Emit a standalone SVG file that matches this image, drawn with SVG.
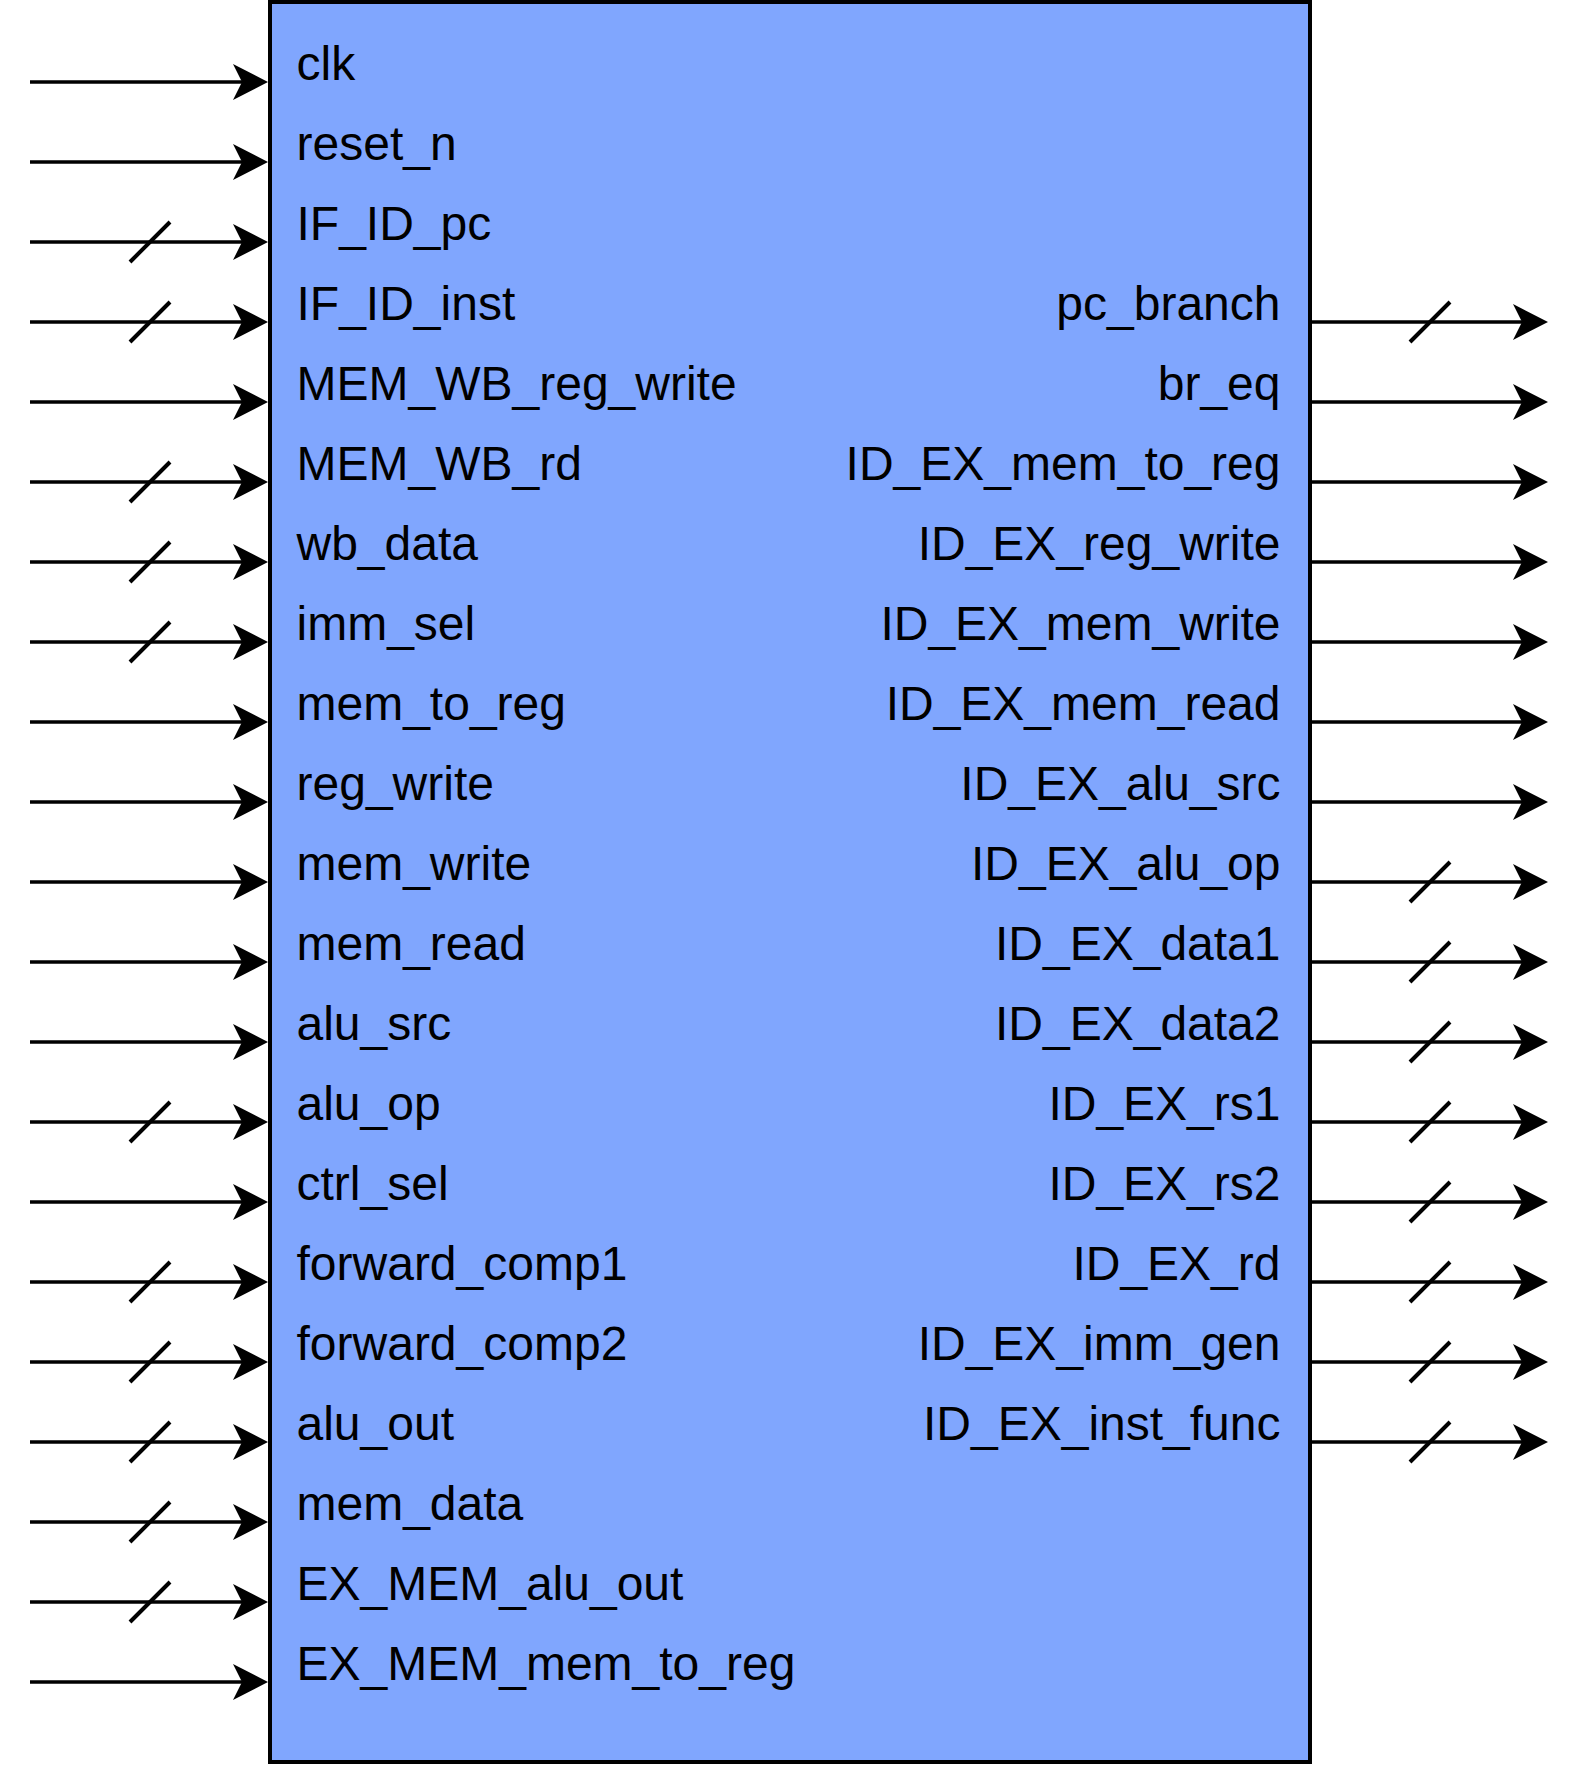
<svg xmlns="http://www.w3.org/2000/svg" width="1584" height="1768" viewBox="0 0 1584 1768">
<style>
.lbl{font-family:"Liberation Sans",Arial,sans-serif;font-size:48px;fill:#000}
.r{text-anchor:end}
.w{stroke:#000;stroke-width:3.5;fill:none}
.s{stroke:#000;stroke-width:4;fill:none}
</style>
<defs>
<marker id="ah" markerUnits="userSpaceOnUse" viewBox="-36 -19 37 38" refX="-20" refY="0" markerWidth="37" markerHeight="38" orient="auto">
<path d="M0,0 L-35,-18 L-26,0 L-35,18 Z" fill="#000"/>
</marker>
</defs>
<rect width="1584" height="1768" fill="#fff"/>
<g id="block">
<rect x="270" y="2" width="1040" height="1760" fill="#80A6FE" stroke="#000" stroke-width="4"/>
<text class="lbl" x="296.5" y="80">clk</text>
<text class="lbl" x="296.5" y="160">reset_n</text>
<text class="lbl" x="296.5" y="240">IF_ID_pc</text>
<text class="lbl" x="296.5" y="320">IF_ID_inst</text>
<text class="lbl" x="296.5" y="400">MEM_WB_reg_write</text>
<text class="lbl" x="296.5" y="480">MEM_WB_rd</text>
<text class="lbl" x="296.5" y="560">wb_data</text>
<text class="lbl" x="296.5" y="640">imm_sel</text>
<text class="lbl" x="296.5" y="720">mem_to_reg</text>
<text class="lbl" x="296.5" y="800">reg_write</text>
<text class="lbl" x="296.5" y="880">mem_write</text>
<text class="lbl" x="296.5" y="960">mem_read</text>
<text class="lbl" x="296.5" y="1040">alu_src</text>
<text class="lbl" x="296.5" y="1120">alu_op</text>
<text class="lbl" x="296.5" y="1200">ctrl_sel</text>
<text class="lbl" x="296.5" y="1280">forward_comp1</text>
<text class="lbl" x="296.5" y="1360">forward_comp2</text>
<text class="lbl" x="296.5" y="1440">alu_out</text>
<text class="lbl" x="296.5" y="1520">mem_data</text>
<text class="lbl" x="296.5" y="1600">EX_MEM_alu_out</text>
<text class="lbl" x="296.5" y="1680">EX_MEM_mem_to_reg</text>
<text class="lbl r" x="1280.5" y="320">pc_branch</text>
<text class="lbl r" x="1280.5" y="400">br_eq</text>
<text class="lbl r" x="1280.5" y="480">ID_EX_mem_to_reg</text>
<text class="lbl r" x="1280.5" y="560">ID_EX_reg_write</text>
<text class="lbl r" x="1280.5" y="640">ID_EX_mem_write</text>
<text class="lbl r" x="1280.5" y="720">ID_EX_mem_read</text>
<text class="lbl r" x="1280.5" y="800">ID_EX_alu_src</text>
<text class="lbl r" x="1280.5" y="880">ID_EX_alu_op</text>
<text class="lbl r" x="1280.5" y="960">ID_EX_data1</text>
<text class="lbl r" x="1280.5" y="1040">ID_EX_data2</text>
<text class="lbl r" x="1280.5" y="1120">ID_EX_rs1</text>
<text class="lbl r" x="1280.5" y="1200">ID_EX_rs2</text>
<text class="lbl r" x="1280.5" y="1280">ID_EX_rd</text>
<text class="lbl r" x="1280.5" y="1360">ID_EX_imm_gen</text>
<text class="lbl r" x="1280.5" y="1440">ID_EX_inst_func</text>
</g>
<g id="connectors">
<path class="w" marker-end="url(#ah)" d="M30,82H248"/>
<path class="w" marker-end="url(#ah)" d="M30,162H248"/>
<path class="w" marker-end="url(#ah)" d="M30,242H248"/>
<path class="w" marker-end="url(#ah)" d="M30,322H248"/>
<path class="w" marker-end="url(#ah)" d="M30,402H248"/>
<path class="w" marker-end="url(#ah)" d="M30,482H248"/>
<path class="w" marker-end="url(#ah)" d="M30,562H248"/>
<path class="w" marker-end="url(#ah)" d="M30,642H248"/>
<path class="w" marker-end="url(#ah)" d="M30,722H248"/>
<path class="w" marker-end="url(#ah)" d="M30,802H248"/>
<path class="w" marker-end="url(#ah)" d="M30,882H248"/>
<path class="w" marker-end="url(#ah)" d="M30,962H248"/>
<path class="w" marker-end="url(#ah)" d="M30,1042H248"/>
<path class="w" marker-end="url(#ah)" d="M30,1122H248"/>
<path class="w" marker-end="url(#ah)" d="M30,1202H248"/>
<path class="w" marker-end="url(#ah)" d="M30,1282H248"/>
<path class="w" marker-end="url(#ah)" d="M30,1362H248"/>
<path class="w" marker-end="url(#ah)" d="M30,1442H248"/>
<path class="w" marker-end="url(#ah)" d="M30,1522H248"/>
<path class="w" marker-end="url(#ah)" d="M30,1602H248"/>
<path class="w" marker-end="url(#ah)" d="M30,1682H248"/>
<path class="s" d="M130,262L170,222M130,342L170,302M130,502L170,462M130,582L170,542M130,662L170,622M130,1142L170,1102M130,1302L170,1262M130,1382L170,1342M130,1462L170,1422M130,1542L170,1502M130,1622L170,1582"/>
<path class="w" marker-end="url(#ah)" d="M1312,322H1528"/>
<path class="w" marker-end="url(#ah)" d="M1312,402H1528"/>
<path class="w" marker-end="url(#ah)" d="M1312,482H1528"/>
<path class="w" marker-end="url(#ah)" d="M1312,562H1528"/>
<path class="w" marker-end="url(#ah)" d="M1312,642H1528"/>
<path class="w" marker-end="url(#ah)" d="M1312,722H1528"/>
<path class="w" marker-end="url(#ah)" d="M1312,802H1528"/>
<path class="w" marker-end="url(#ah)" d="M1312,882H1528"/>
<path class="w" marker-end="url(#ah)" d="M1312,962H1528"/>
<path class="w" marker-end="url(#ah)" d="M1312,1042H1528"/>
<path class="w" marker-end="url(#ah)" d="M1312,1122H1528"/>
<path class="w" marker-end="url(#ah)" d="M1312,1202H1528"/>
<path class="w" marker-end="url(#ah)" d="M1312,1282H1528"/>
<path class="w" marker-end="url(#ah)" d="M1312,1362H1528"/>
<path class="w" marker-end="url(#ah)" d="M1312,1442H1528"/>
<path class="s" d="M1410,342L1450,302M1410,902L1450,862M1410,982L1450,942M1410,1062L1450,1022M1410,1142L1450,1102M1410,1222L1450,1182M1410,1302L1450,1262M1410,1382L1450,1342M1410,1462L1450,1422"/>
</g>
</svg>
